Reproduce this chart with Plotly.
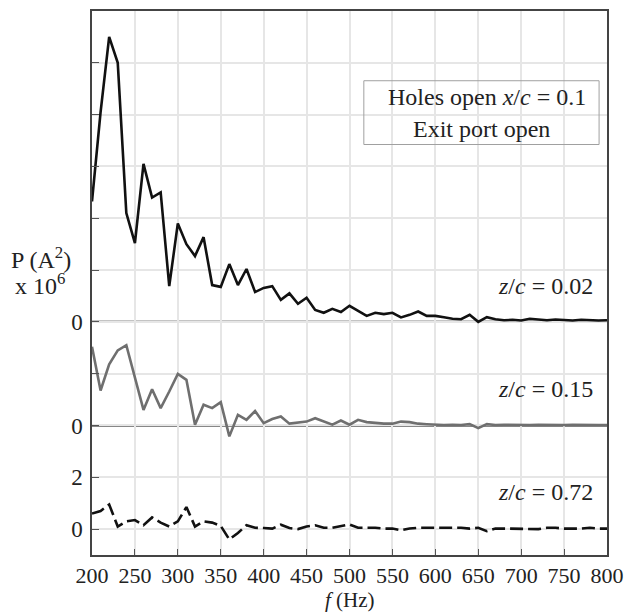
import plotly.graph_objects as go

# ---------------- data ----------------
freq_hz = [200, 210, 220, 230, 240, 250, 260, 270, 280, 290,
           300, 310, 320, 330, 340, 350, 360, 370, 380, 390,
           400, 410, 420, 430, 440, 450, 460, 470, 480, 490,
           500, 510, 520, 530, 540, 550, 560, 570, 580, 590,
           600, 610, 620, 630, 640, 650, 660, 670, 680, 690,
           700, 710, 720, 730, 740, 750, 760, 770, 780, 790, 800]

p_zc002 = [4.65, 8.1, 11.0, 10.0, 4.2, 3.04, 6.1, 4.8, 5.0, 1.38,
           3.8, 3.0, 2.54, 3.27, 1.42, 1.35, 2.23, 1.42, 2.04, 1.15,
           1.31, 1.38, 0.85, 1.1, 0.7, 0.93, 0.46, 0.35, 0.5, 0.38,
           0.62, 0.42, 0.23, 0.35, 0.3, 0.35, 0.17, 0.27, 0.4, 0.23,
           0.23, 0.18, 0.12, 0.1, 0.27, 0.0, 0.18, 0.1, 0.06, 0.08,
           0.05, 0.12, 0.08, 0.06, 0.09, 0.07, 0.05, 0.08, 0.06, 0.05, 0.06]

p_zc015 = [3.04, 1.35, 2.36, 2.9, 3.1, 1.85, 0.6, 1.4, 0.67, 1.31,
           1.99, 1.76, 0.03, 0.8, 0.67, 0.9, -0.42, 0.41, 0.22, 0.56,
           0.09, 0.25, 0.35, 0.07, 0.12, 0.15, 0.28, 0.15, 0.03, 0.19,
           0.03, 0.22, 0.13, 0.1, 0.07, 0.07, 0.15, 0.13, 0.07, 0.05,
           0.03, 0.02, 0.03, 0.02, 0.05, -0.1, 0.05, 0.02, 0.03, 0.02,
           0.03, 0.02, 0.03, 0.02, 0.03, 0.02, 0.03, 0.02, 0.03, 0.02, 0.02]

p_zc072 = [0.6, 0.7, 0.95, 0.1, 0.3, 0.35, 0.15, 0.45, 0.25, 0.1,
           0.3, 0.85, 0.1, 0.3, 0.25, 0.12, -0.4, -0.15, 0.15, 0.05,
           0.04, 0.02, 0.17, 0.04, 0.0, 0.1, 0.15, 0.05, 0.05, 0.13,
           0.18, 0.05, 0.05, 0.05, 0.02, 0.02, -0.04, 0.02, 0.05, 0.05,
           0.05, 0.05, 0.05, 0.05, 0.02, 0.05, -0.08, 0.02, 0.02, 0.02,
           0.02, 0.0, 0.0, 0.05, 0.05, 0.02, 0.02, 0.02, 0.05, 0.02, 0.02]

series_labels = ["0.02", "0.15", "0.72"]
x_ticks = [200, 250, 300, 350, 400, 450, 500, 550, 600, 650, 700, 750, 800]
y_label_vals = [0, 2, 4, 8]
y_label_text = ["0", "2", "0", "0"]
y_minor_vals = [6, 10, 12, 14, 16, 18]

# ---------------- layout / style ----------------
offsets = [8, 4, 0]          # vertical stacking of the three records
colors = ["#111111", "#6f6f6f", "#111111"]
dashes = ["solid", "solid", "13px,5px"]
FONT = "Liberation Serif"
TXT = "#222222"
FS = 24
TFS = 22

fig = go.Figure()
for vals, off, col, dsh in zip([p_zc002, p_zc015, p_zc072], offsets, colors, dashes):
    fig.add_trace(go.Scatter(
        x=freq_hz, y=[v + off for v in vals], mode="lines",
        line=dict(color=col, width=2.6, dash=dsh), showlegend=False,
        hoverinfo="skip"))

# zero lines of each record
for off in offsets:
    fig.add_shape(type="line", xref="paper", x0=0, x1=1, yref="y", y0=off, y1=off,
                  line=dict(color="#111111", width=2), layer="below")

fig.update_layout(
    width=633, height=613,
    margin=dict(l=92, r=20, t=9, b=58),
    paper_bgcolor="white", plot_bgcolor="white",
    font=dict(family=FONT, size=FS, color=TXT),
    xaxis=dict(range=[200, 800], tickvals=x_ticks, ticks="inside", ticklen=6,
               tickcolor="#555", showgrid=True, gridcolor="#e6e6e6", gridwidth=2,
               showline=True, mirror=True, linecolor="#444", linewidth=1.5,
               zeroline=False, ticklabelstandoff=0,
               tickfont=dict(family=FONT, size=TFS, color=TXT)),
    yaxis=dict(range=[-1, 20], tickvals=y_label_vals, ticktext=y_label_text,
               ticks="inside", ticklen=7, tickcolor="#555",
               showgrid=True, gridcolor="#e6e6e6", gridwidth=2,
               minor=dict(tickvals=y_minor_vals, ticks="inside", ticklen=7,
                          tickcolor="#555", showgrid=True, gridcolor="#e6e6e6",
                          gridwidth=2),
               showline=True, mirror=True, linecolor="#444", linewidth=1.5,
               zeroline=False, ticklabelstandoff=3,
               tickfont=dict(family=FONT, size=23, color=TXT)),
)

# record labels
label_y = [9.38, 5.42, 1.42]
for lab, yy in zip(series_labels, label_y):
    fig.add_annotation(x=(601 - 92) / 521, xref="paper", y=yy, yref="y", xanchor="right",
                       yanchor="middle", showarrow=False,
                       text="<i>z</i>/<i>c</i> = " + lab,
                       font=dict(family=FONT, size=FS, color=TXT))

# info box
fig.add_shape(type="rect", xref="paper", yref="paper",
              x0=(367 - 92) / 521, x1=(605 - 92) / 521,
              y0=(555 - 143) / 546, y1=(555 - 79) / 546,
              line=dict(color="#a0a0a0", width=1), fillcolor="rgba(255,255,255,0)")
fig.add_annotation(x=(492 - 92) / 521, xref="paper", y=(555 - 95) / 546, yref="paper",
                   showarrow=False, xanchor="center", yanchor="middle",
                   text="Holes open <i>x</i>/<i>c</i> = 0.1",
                   font=dict(family=FONT, size=FS, color=TXT))
fig.add_annotation(x=(486 - 92) / 521, xref="paper", y=(555 - 127) / 546, yref="paper",
                   showarrow=False, xanchor="center", yanchor="middle",
                   text="Exit port open",
                   font=dict(family=FONT, size=FS, color=TXT))

# axis titles
fig.add_annotation(x=(40 - 92) / 521, xref="paper", y=(555 - 257) / 546, yref="paper",
                   showarrow=False, xanchor="center", yanchor="middle",
                   text="P (A<sup>2</sup>)", font=dict(family=FONT, size=FS, color=TXT))
fig.add_annotation(x=(39 - 92) / 521, xref="paper", y=(555 - 283) / 546, yref="paper",
                   showarrow=False, xanchor="center", yanchor="middle",
                   text="x 10<sup>6</sup>", font=dict(family=FONT, size=FS, color=TXT))
fig.add_annotation(x=0.5, xref="paper", y=-(600 - 555) / 546, yref="paper",
                   showarrow=False, xanchor="center", yanchor="middle",
                   text="<i>f</i> (Hz)", font=dict(family=FONT, size=21, color=TXT))

fig.write_html("out.html")
